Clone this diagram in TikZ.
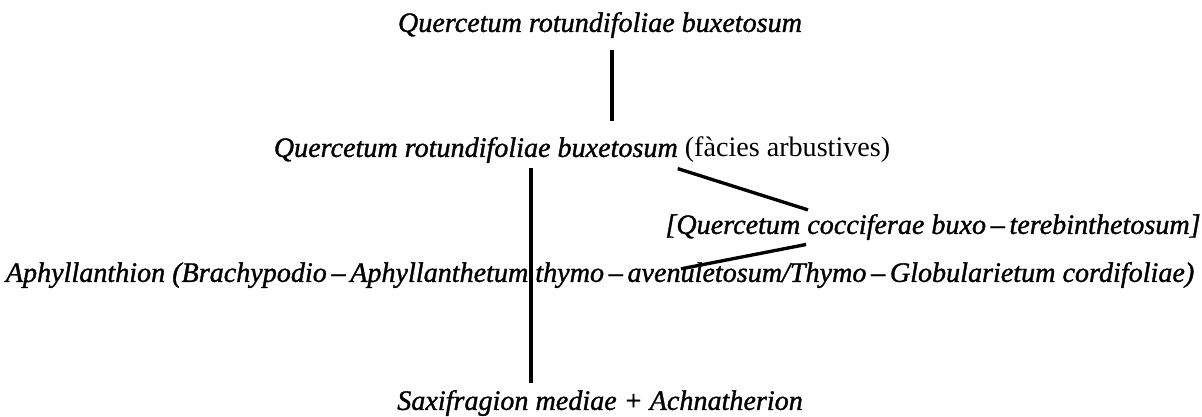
\documentclass[tikz,border=0pt]{standalone}
\usepackage{fontspec}
\setmainfont{Liberation Serif}[ItalicFeatures={FakeBold=1.2}]
\usetikzlibrary{positioning}

\begin{document}
\begin{tikzpicture}[
    every node/.style={font=\fontsize{8}{10}\selectfont},
    taxon/.style={inner sep=1pt, font=\fontsize{8}{10}\selectfont\itshape},
    link/.style={line width=0.95pt, draw=black}
]
\useasboundingbox (0,0) rectangle (12.02,-4.16);

% === Syntaxa ===
\node[taxon] (qrb) at (6.00,-0.25) {Quercetum rotundifoliae buxetosum};
\node[taxon] (qrbf) at (5.82,-1.50)
    {Quercetum rotundifoliae buxetosum {\upshape (fàcies arbustives)}};
\node[taxon] (qcbt) at (9.33,-2.27)
    {[Quercetum cocciferae buxo\,--\,terebinthetosum]};
\node[taxon] (aph) at (6.00,-2.75)
    {Aphyllanthion (Brachypodio\,--\,Aphyllanthetum thymo\,--\,avenuletosum/Thymo\,--\,Globularietum cordifoliae)};
\node[taxon] (sax) at (6.00,-4.03) {Saxifragion mediae + Achnatherion};

% === Stems ===
\coordinate (stemA) at (6.12,0);
\coordinate (stemB) at (5.31,0);
\coordinate (forkA) at (6.73,0);
\coordinate (forkB) at (8.08,0);
\coordinate (forkC) at (6.81,0);

\draw[link, shorten <=0.08cm, shorten >=0.12cm] (qrb.south -| stemA) -- (qrbf.north -| stemA);
\draw[link, shorten <=0.01cm, shorten >=0.03cm] (qrbf.south -| stemB) -- (sax.north -| stemB);
\draw[link, shorten <=0.05cm] (qrbf.south -| forkA) -- (qcbt.north -| forkB);
\draw[link, shorten <=0.02cm] (qcbt.south -| forkB) -- ([yshift=-0.11cm]aph.north -| forkC);

\end{tikzpicture}
\end{document}
